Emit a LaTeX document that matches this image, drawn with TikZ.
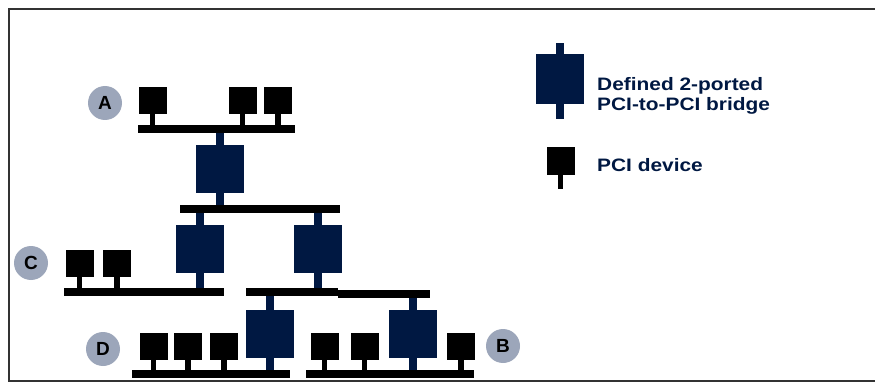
\documentclass[tikz,border=0pt]{standalone}
\usepackage{fontspec}
\setmainfont{Liberation Sans}
\definecolor{navy}{RGB}{0,24,66}
\definecolor{badgegray}{RGB}{156,166,186}
\definecolor{framegray}{RGB}{51,51,51}

\begin{document}
\begin{tikzpicture}[x=1pt,y=-1pt,
  device/.style={fill=black, inner sep=0, outer sep=0, minimum width=28pt, minimum height=27pt},
  bridge/.style={fill=navy, inner sep=0, outer sep=0, minimum width=48pt, minimum height=48pt},
  bus/.style={fill=black, inner sep=0, outer sep=0, minimum height=8pt},
  devstem/.style={draw=black, line width=5.5pt},
  brstem/.style={draw=navy, line width=8pt},
  badge/.style={circle, fill=badgegray, minimum size=34pt, inner sep=0,
    font=\fontsize{19}{19}\selectfont\bfseries},
  legendtext/.style={anchor=base west, inner sep=0, text=navy,
    font=\fontsize{18}{20}\selectfont\bfseries},
]
\useasboundingbox (0,0) rectangle (875,382);

% outer frame (open on the right)
\draw[framegray, line width=1.8pt] (875,9) -- (9,9) -- (9,381) -- (875,381);

% buses
\node[bus, minimum width=157pt] (busA) at (216.5,129) {};
\node[bus, minimum width=160pt] (busM) at (260,209) {};
\node[bus, minimum width=160pt] (busC) at (144,292) {};
\node[bus, minimum width=92pt]  (busE1) at (292,292) {};
\node[bus, minimum width=92pt]  (busE2) at (384,294) {};
\node[bus, minimum width=158pt] (busD) at (211,374) {};
\node[bus, minimum width=168pt] (busB) at (390,374) {};

% bridges
\node[bridge] (bA) at (220,169) {};
\node[bridge] (bL) at (200,249) {};
\node[bridge] (bR) at (318,249) {};
\node[bridge] (bD) at (270,334) {};
\node[bridge] (bB) at (413,334) {};

\draw[brstem] (bA.north) -- (bA.north |- busA.south);
\draw[brstem] (bA.south) -- (bA.south |- busM.north);
\draw[brstem] (bL.north) -- (bL.north |- busM.south);
\draw[brstem] (bL.south) -- (bL.south |- busC.north);
\draw[brstem] (bR.north) -- (bR.north |- busM.south);
\draw[brstem] (bR.south) -- (bR.south |- busE1.north);
\draw[brstem] (bD.north) -- (bD.north |- busE1.south);
\draw[brstem] (bD.south) -- (bD.south |- busD.north);
\draw[brstem] (bB.north) -- (bB.north |- busE2.south);
\draw[brstem] (bB.south) -- (bB.south |- busB.north);

% devices on bus A
\node[device] (a1) at (152.5,100.5) {};
\node[device] (a2) at (242.5,100.5) {};
\node[device] (a3) at (278,100.5) {};
\foreach \d in {a1,a2,a3} \draw[devstem] (\d.south) -- (\d.south |- busA.north);

% devices on bus C
\node[device] (c1) at (79.5,263) {};
\node[device] (c2) at (117,263) {};
\foreach \d in {c1,c2} \draw[devstem] (\d.south) -- (\d.south |- busC.north);

% devices on bus D
\node[device] (d1) at (153.5,346.5) {};
\node[device] (d2) at (188,346.5) {};
\node[device] (d3) at (224,346.5) {};
\foreach \d in {d1,d2,d3} \draw[devstem] (\d.south) -- (\d.south |- busD.north);

% devices on bus B
\node[device] (e1) at (324.5,346.5) {};
\node[device] (e2) at (364.5,346.5) {};
\node[device] (e3) at (461,346.5) {};
\foreach \d in {e1,e2,e3} \draw[devstem] (\d.south) -- (\d.south |- busB.north);

% bus labels
\node[badge] (lA) at (105,103) {A};
\node[badge] (lC) at (31,263) {C};
\node[badge] (lD) at (103,349) {D};
\node[badge] (lB) at (503,346) {B};

% legend
\node[bridge, minimum height=50pt] (legBridge) at (560,79) {};
\coordinate (legBridgeTop) at (560,43);
\coordinate (legBridgeBot) at (560,119);
\draw[brstem, line width=7.5pt] (legBridge.north) -- (legBridgeTop);
\draw[brstem, line width=7.5pt] (legBridge.south) -- (legBridgeBot);

\node[device, minimum height=28pt] (legDev) at (560.5,161) {};
\coordinate (legDevBot) at (560.5,189);
\draw[devstem] (legDev.south) -- (legDevBot);

\node[legendtext] (t1) at (597,91) {\scalebox{1.16}[1]{Defined 2-ported}};
\node[legendtext] (t2) at (597,111) {\scalebox{1.16}[1]{PCI-to-PCI bridge}};
\node[legendtext] (t3) at (597,172) {\scalebox{1.16}[1]{PCI device}};
\end{tikzpicture}
\end{document}
